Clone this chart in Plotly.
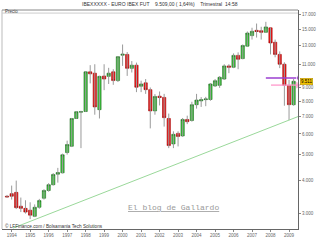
import plotly.graph_objects as go
import math

# Quarterly candles (quarter start dates)
dates = ["1993-10-01", "1994-01-01", "1994-04-01", "1994-07-01", "1994-10-01",
         "1995-01-01", "1995-04-01", "1995-07-01", "1995-10-01",
         "1996-01-01", "1996-04-01", "1996-07-01", "1996-10-01",
         "1997-01-01", "1997-04-01", "1997-07-01", "1997-10-01",
         "1998-01-01", "1998-04-01", "1998-07-01", "1998-10-01",
         "1999-01-01", "1999-04-01", "1999-07-01", "1999-10-01",
         "2000-01-01", "2000-04-01", "2000-07-01", "2000-10-01",
         "2001-01-01", "2001-04-01", "2001-07-01", "2001-10-01",
         "2002-01-01", "2002-04-01", "2002-07-01", "2002-10-01",
         "2003-01-01", "2003-04-01", "2003-07-01", "2003-10-01",
         "2004-01-01", "2004-04-01", "2004-07-01", "2004-10-01",
         "2005-01-01", "2005-04-01", "2005-07-01", "2005-10-01",
         "2006-01-01", "2006-04-01", "2006-07-01", "2006-10-01",
         "2007-01-01", "2007-04-01", "2007-07-01", "2007-10-01",
         "2008-01-01", "2008-04-01", "2008-07-01", "2008-10-01",
         "2009-01-01", "2009-04-01"]
opens = [3480, 3560, 3600, 3190, 3130, 3080, 2920, 3160, 3420, 3660, 3850, 4220, 4270,
         5100, 5390, 6870, 7260, 7300, 10330, 10210, 7420, 9960, 9930, 10330, 9570,
         11950, 12030, 10650, 10950, 9110, 9380, 8840, 7340, 8350, 8260, 6870, 5500,
         6030, 5900, 6810, 6750, 7750, 8010, 8100, 8110, 9130, 9180, 9700, 10880,
         10750, 11930, 11600, 12930, 14180, 14850, 14800, 14600, 15180, 13380, 12030,
         11040, 9180, 7750]
highs = [3520, 3820, 3990, 3440, 3360, 3300, 3240, 3400, 3700, 3900, 4260, 4460, 5050,
         5660, 6900, 7320, 7350, 10400, 10950, 11040, 9980, 11040, 10700, 10570, 11830,
         13120, 12280, 11350, 11200, 9560, 9700, 9010, 8500, 8700, 8520, 7170, 6140,
         6140, 6900, 7040, 7950, 8520, 8280, 8300, 9370, 9700, 9950, 11040, 11040,
         12140, 12250, 13120, 14700, 15190, 15760, 15320, 16000, 15190, 13700, 12350,
         11230, 9620, 9700]
lows = [3440, 3380, 3110, 3030, 2990, 2850, 2900, 3120, 3380, 3620, 3820, 3920, 4250,
        5010, 5350, 6850, 5300, 7280, 9340, 7100, 6870, 8800, 9290, 9220, 9450,
        10880, 9970, 10270, 8650, 8650, 8520, 6300, 7100, 7700, 6400, 5300, 5300,
        5380, 5850, 6540, 6680, 7490, 7600, 7650, 8020, 9050, 8980, 9620, 10210,
        10670, 10570, 11530, 12890, 13700, 13940, 13700, 14550, 12030, 11730, 10670,
        7680, 6770, 7680]
closes = [3460, 3480, 3150, 3130, 3030, 2950, 3160, 3350, 3660, 3850, 4210, 4280, 5000,
          5470, 6870, 7290, 7290, 10330, 10150, 7600, 9930, 9700, 10210, 9570, 11800,
          12050, 10650, 10950, 9030, 9290, 8840, 7340, 8330, 8250, 6920, 5420, 5980,
          5870, 6810, 6680, 7750, 8070, 8100, 8150, 9290, 9560, 9850, 10880, 10750,
          11930, 11530, 13010, 14500, 14730, 14700, 14600, 15300, 13300, 12030, 11040,
          9180, 7750, 9511]

# Trend line (support) and horizontal levels
trend_x = ["1994-02-01", "2009-06-27"]
trend_y = [2636, 6985]
purple_x = ["2007-10-01", "2009-06-22"]
purple_y = [9790, 9790]
pink_x = ["2008-01-10", "2009-06-22"]
pink_y = [9200, 9200]

ytick_vals = [3000, 4000, 5000, 6000, 7000, 8000, 9000, 11000, 13000, 15000, 17000]
ytick_text = ["3.000", "4.000", "5.000", "6.000", "7.000", "8.000", "9.000",
              "11.000", "13.000", "15.000", "17.000"]
last_price = 9511
title_text = "IBEXXXXX - EURO IBEX FUT    9.509,00 ( 1,64%)    Trimestral  14:58"

fig = go.Figure()

# wicks
wx, wy = [], []
for d, lo, hi in zip(dates, lows, highs):
    wx += [d, d, None]
    wy += [lo, hi, None]
fig.add_trace(go.Scatter(x=wx, y=wy, mode="lines",
                         line=dict(color="#9a9a9a", width=1), hoverinfo="skip",
                         showlegend=False))

# bodies
body_lo = [min(o, c) for o, c in zip(opens, closes)]
body_hi = [max(o, c) for o, c in zip(opens, closes)]
fig.add_trace(go.Candlestick(
    x=dates, open=opens, close=closes, low=body_lo, high=body_hi,
    increasing=dict(line=dict(color="#1f6a1f", width=0.6), fillcolor="#3ec43e"),
    decreasing=dict(line=dict(color="#a00000", width=0.6), fillcolor="#ee1a1a"),
    whiskerwidth=0, showlegend=False))

fig.add_trace(go.Scatter(x=trend_x, y=trend_y, mode="lines",
                         line=dict(color="#9ad89a", width=1), showlegend=False))
fig.add_trace(go.Scatter(x=purple_x, y=purple_y, mode="lines+markers",
                         line=dict(color="#9b3fd0", width=1.3),
                         marker=dict(symbol="triangle-right", size=[0, 5], color="#9b3fd0"),
                         cliponaxis=False, showlegend=False))
fig.add_trace(go.Scatter(x=pink_x, y=pink_y, mode="lines+markers",
                         line=dict(color="#ff99cc", width=1.3),
                         marker=dict(symbol="triangle-right", size=[0, 5], color="#ff88c4"),
                         cliponaxis=False, showlegend=False))

fig.update_layout(
    width=320, height=240, autosize=False,
    margin=dict(l=2, r=22, t=10, b=8),
    paper_bgcolor="white", plot_bgcolor="white",
    font=dict(family="Liberation Sans, Arial, sans-serif", size=5, color="#555"),
    boxgap=0.2, boxgroupgap=0.1,
    xaxis=dict(type="date", range=["1993-06-24", "2009-06-27"],
               rangeslider=dict(visible=False),
               tick0="1994-01-01", dtick="M12", tickformat="%Y",
               ticks="outside", ticklen=2, tickcolor="#888",
               tickfont=dict(size=4.5, color="#666"),
               showline=True, linecolor="#666", linewidth=1,
               showgrid=False, zeroline=False),
    yaxis=dict(type="log", range=[math.log10(2613), math.log10(17742)],
               side="right", tickvals=ytick_vals, ticktext=ytick_text,
               ticks="outside", ticklen=2, tickcolor="#888",
               tickfont=dict(size=4.5, color="#666"),
               showline=True, linecolor="#666", linewidth=1,
               showgrid=False, zeroline=False),
    shapes=[
        dict(type="line", xref="paper", yref="paper", x0=0, x1=0, y0=0, y1=1,
             line=dict(color="#bbbbbb", width=1)),
        dict(type="line", xref="paper", yref="paper", x0=0, x1=1, y0=1, y1=1,
             line=dict(color="#888888", width=1)),
        dict(type="line", xref="paper", yref="paper", x0=0, x1=1, y0=0.986, y1=0.986,
             line=dict(color="#cccccc", width=1)),
    ],
    annotations=[
        dict(text=title_text, xref="paper", yref="paper", x=0.535, y=1.0,
             yshift=6, xanchor="center", yanchor="middle", showarrow=False,
             font=dict(size=5, color="#333")),
        dict(text="Precio", xref="paper", yref="paper", x=0.003, y=0.993,
             xanchor="left", yanchor="middle", showarrow=False,
             font=dict(size=4.5, color="#444")),
        dict(text="El blog de Gallardo", xref="paper", yref="paper", x=0.578, y=0.097,
             xanchor="center", yanchor="middle", showarrow=False,
             font=dict(family="Liberation Mono, Courier New, monospace", size=8,
                       color="#9a9a9a", lineposition="under")),
        dict(text="© LFFinance.com / Bolsamania Tech Solutions", xref="paper", yref="paper",
             x=0.002, y=0.012, xanchor="left", yanchor="middle", showarrow=False,
             font=dict(size=4.7, color="#333")),
        dict(text="9.511", xref="paper", yref="y", x=1.008, y=math.log10(last_price),
             xanchor="left", yanchor="middle", showarrow=False,
             bgcolor="#f2c200", bordercolor="#b08a00", borderwidth=0.5, borderpad=0.5,
             font=dict(size=4.5, color="#000")),
    ],
)

fig.write_html("out.html")
